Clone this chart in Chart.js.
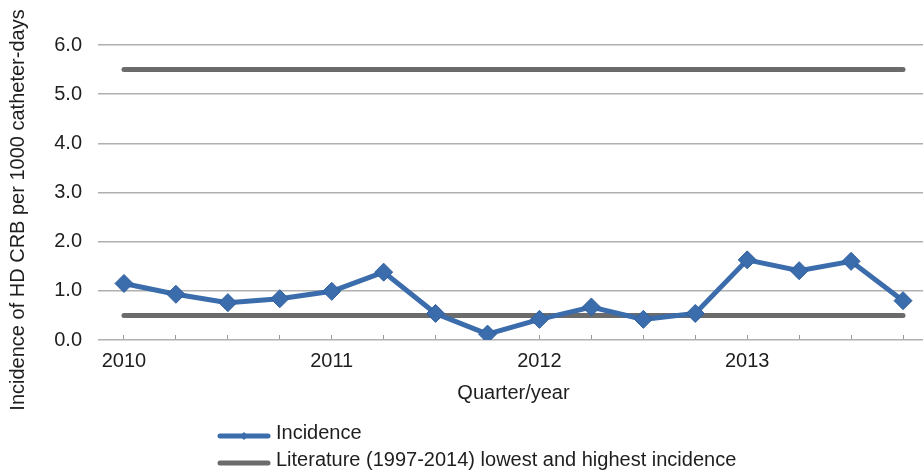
<!DOCTYPE html>
<html>
<head>
<meta charset="utf-8">
<script src="https://cdn.jsdelivr.net/npm/chart.js@4/dist/chart.umd.min.js"></script>
<style>
  html, body { margin: 0; padding: 0; background: #fff; overflow: hidden; }
  #wrap { position: relative; width: 923px; height: 470px; overflow: hidden; }
  #chart { display: block; }
</style>
</head>
<body>
<div id="wrap"><canvas id="chart" width="930" height="470"></canvas></div>
<script>
// Quarterly HD CRB incidence, 2010 Q1 – 2013 Q4

const quarters   = ["2010", "2010 Q2", "2010 Q3", "2010 Q4",
                    "2011", "2011 Q2", "2011 Q3", "2011 Q4",
                    "2012", "2012 Q2", "2012 Q3", "2012 Q4",
                    "2013", "2013 Q2", "2013 Q3", "2013 Q4"];
const incidence  = [1.15, 0.93, 0.76, 0.84, 0.99, 1.38, 0.54, 0.12,
                    0.42, 0.67, 0.42, 0.54, 1.63, 1.41, 1.60, 0.80];
const litLowest  = [0.5, 0.5, 0.5, 0.5, 0.5, 0.5, 0.5, 0.5,
                    0.5, 0.5, 0.5, 0.5, 0.5, 0.5, 0.5, 0.5];
const litHighest = [5.5, 5.5, 5.5, 5.5, 5.5, 5.5, 5.5, 5.5,
                    5.5, 5.5, 5.5, 5.5, 5.5, 5.5, 5.5, 5.5];
const yTicks     = [0, 1, 2, 3, 4, 5, 6];

const FONT  = "'Liberation Sans', Arial, sans-serif";
const BLUE  = "#3b6cab";
const GREY  = "#6b6b6b";
const INK   = "#1e1e1e";

/* ──────────────────────────────────────────────────────────────
   Rotated y title, placed like the original (not centred on the plot)
   ────────────────────────────────────────────────────────────── */
const sideTitle = {
  id: "sideTitle",
  afterDraw(chart, args, opts) {
    const c = chart.ctx;
    c.save();
    c.translate(opts.x, opts.y);
    c.rotate(-Math.PI / 2);
    c.font = opts.size + "px " + FONT;
    c.fillStyle = INK;
    c.textAlign = "center";
    c.textBaseline = "middle";
    c.fillText(opts.text, 0, 0);
    c.restore();
  }
};

/* ──────────────────────────────────────────────────────────────
   Stacked legend under the axis title
   ────────────────────────────────────────────────────────────── */
const stackLegend = {
  id: "stackLegend",
  afterDraw(chart, args, opts) {
    const c = chart.ctx;
    let y = opts.y;
    c.save();
    c.font = opts.size + "px " + FONT;
    c.textBaseline = "middle";
    chart.data.datasets.forEach(ds => {
      if (ds.noLegend) return;
      c.strokeStyle = ds.borderColor;
      c.lineWidth = ds.borderWidth;
      c.lineCap = "round";
      c.beginPath();
      c.moveTo(opts.x, y + 3);
      c.lineTo(opts.x + opts.sample, y + 3);
      c.stroke();
      if (ds.pointRadius > 0) {
        const mx = opts.x + opts.sample / 2, r = 4;
        c.fillStyle = ds.borderColor;
        c.beginPath();
        c.moveTo(mx, y + 3 - r); c.lineTo(mx + r, y + 3);
        c.lineTo(mx, y + 3 + r); c.lineTo(mx - r, y + 3);
        c.closePath(); c.fill();
      }
      c.fillStyle = INK;
      c.fillText(ds.label, opts.x + opts.sample + 8, y);
      y += opts.gap;
    });
    c.restore();
  }
};

new Chart(document.getElementById("chart"), {
  type: "line",
  data: {
    labels: quarters,
    datasets: [
      {
        label: "Incidence",
        data: incidence,
        borderColor: BLUE,
        backgroundColor: BLUE,
        borderWidth: 5,
        pointStyle: "rectRot",
        pointRadius: 9,
        pointBorderWidth: 1,
        pointBorderColor: "#2f5f9e",
        pointBackgroundColor: BLUE,
        tension: 0,
        order: 0,
      },
      {
        label: "Literature (1997-2014) lowest and highest incidence",
        data: litLowest,
        borderColor: GREY,
        borderWidth: 5,
        pointRadius: 0,
        borderCapStyle: "round",
        order: 1,
      },
      {
        label: "Literature (1997-2014) lowest and highest incidence",
        data: litHighest,
        borderColor: GREY,
        borderWidth: 5,
        pointRadius: 0,
        borderCapStyle: "round",
        noLegend: true,
        order: 1,
      },
    ],
  },
  options: {
    responsive: false,
    animation: false,
    // no auto padding for the big markers: the plot runs off the right edge like the original
    layout: { autoPadding: false, padding: { top: 45, right: 1, bottom: 65, left: 0 } },
    plugins: {
      legend: { display: false },
      tooltip: { enabled: false },
      sideTitle: { text: "Incidence of HD CRB per 1000 catheter-days", x: 18, y: 210, size: 20 },
      stackLegend: { x: 220, y: 433, gap: 27, sample: 48, size: 20 },
    },
    scales: {
      x: {
        offset: true,
        grid: { offset: false, drawOnChartArea: false, drawTicks: true, tickLength: -5, color: "#9a9a9a", lineWidth: 1 },
        border: { display: false },
        ticks: {
          color: INK, font: { family: FONT, size: 20 }, padding: 14,
          autoSkip: false, maxRotation: 0,
          callback: (v, i) => (i % 4 === 0 ? quarters[i] : ""),
        },
        title: { display: true, text: "Quarter/year", color: INK, font: { family: FONT, size: 20 }, padding: 0 },
        afterFit: s => { s.height = 65; s.paddingLeft = 0; s.paddingRight = 0; },
      },
      y: {
        min: yTicks[0], max: yTicks[yTicks.length - 1],
        afterBuildTicks: s => { s.ticks = yTicks.map(v => ({ value: v })); },
        grid: { drawTicks: false, color: "#b0b0b0", lineWidth: 1.5 },
        border: { display: false },
        ticks: { color: INK, font: { family: FONT, size: 20 }, padding: 16, callback: v => v.toFixed(1) },
        afterFit: s => { s.width = 98; },
      },
    },
  },
  plugins: [sideTitle, stackLegend],
});
</script>
</body>
</html>
